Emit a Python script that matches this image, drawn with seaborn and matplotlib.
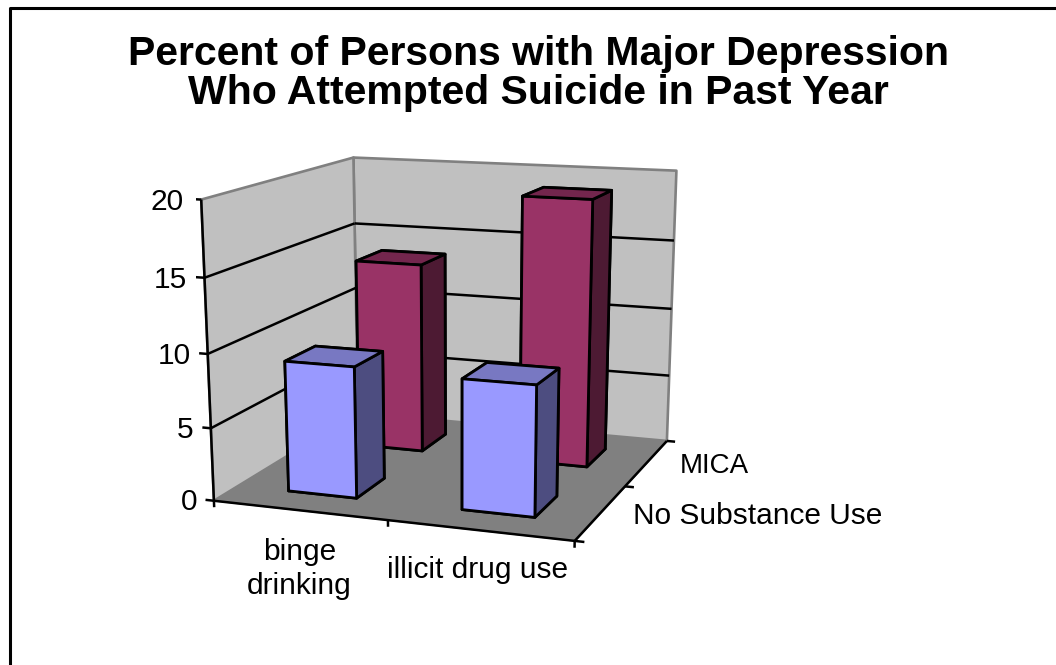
import numpy as np
import matplotlib
matplotlib.use("Agg")
import matplotlib.pyplot as plt
from matplotlib.lines import Line2D
from mpl_toolkits.mplot3d.art3d import Poly3DCollection, Line3DCollection
import seaborn as sns

# ---- data ----
categories = ["binge\ndrinking", "illicit drug use"]
series_names = ["No Substance Use", "MICA"]
no_substance = [9.0, 8.8]
mica = [13.7, 18.9]
z_ticks = [0, 5, 10, 15, 20]
title = "Percent of Persons with Major Depression\nWho Attempted Suicide in Past Year"

# ---- style ----
sns.set_theme(style="white")
plt.rcParams["font.family"] = ["Liberation Sans", "DejaVu Sans"]
FS = 21.5
BAR_W = 0.4
WALL, FLOOR, EDGE = "#C0C0C0", "#808080", "#808080"
BLUE = ["#9999FF", "#7878C2", "#4D4D80"]      # front, top, side
WINE = ["#993366", "#73264D", "#4D1A33"]
LW = 2.0

W, H = 1056, 665
# Camera of the chart: world (x, y, z) -> pixel (u*w, v*w, w)
CAMERA = np.array([[160.82148, 105.55331, -1.12972, 213.90928],
                   [1.65113, -5.18733, -15.550478, 500.76306],
                   [-0.03405, 0.09386, -0.002459, 1.0]])

fig = plt.figure(figsize=(W / 100, H / 100), dpi=100, facecolor="white")
ax = fig.add_axes([0, 0, 1, 1], projection="3d", computed_zorder=False)
ax.set_axis_off()


def fixed_proj():
    inv = ax.transData.inverted()
    o, ex, ey = inv.transform([[0, 0], [1, 0], [0, 1]])
    ax_, bx = ex[0] - o[0], o[0]
    ay, by = ey[1] - o[1], o[1]
    u, v, w = CAMERA
    far = np.array([0, 0, 0, 1.0])
    return np.array([ax_ * u + bx * w,
                     ay * (H * w - v) + by * w,
                     w - far,
                     w])


ax.get_proj = fixed_proj


def label(x, y, z, s, dy=0, **kw):
    """Place a real 2D text at the picture position of a world point."""
    u, v, w = CAMERA @ np.array([x, y, z, 1.0])
    fig.text(u / w / W, 1 - (v / w + dy) / H, s, color="black", **kw)


xn, yn = len(categories), len(series_names)
zmax = z_ticks[-1]
ax.set_xlim(0, xn); ax.set_ylim(0, yn); ax.set_zlim(0, zmax)

# walls and floor
left_wall = [(0, 0, 0), (0, yn, 0), (0, yn, zmax), (0, 0, zmax)]
back_wall = [(0, yn, 0), (xn, yn, 0), (xn, yn, zmax), (0, yn, zmax)]
floor = [(0, 0, 0), (xn, 0, 0), (xn, yn, 0), (0, yn, 0)]
ax.add_collection3d(Poly3DCollection([left_wall, back_wall], facecolors=WALL,
                                     edgecolors=EDGE, linewidths=1.9, zorder=1))
ax.add_collection3d(Poly3DCollection([floor], facecolors=FLOOR, edgecolors=FLOOR,
                                     linewidths=0.5, zorder=1.5))

# gridlines, axes lines and ticks
segs = []
for z in z_ticks[1:-1]:
    segs += [[(0, 0, z), (0, yn, z)], [(0, yn, z), (xn, yn, z)]]
segs += [[(0, 0, 0), (0, 0, zmax)], [(0, 0, 0), (xn, 0, 0)], [(xn, 0, 0), (xn, yn, 0)]]
for z in z_ticks:
    segs.append([(-0.05, 0, z), (0, 0, z)])
    label(-0.1, 0, z, str(z), dy=3, ha="right", va="center", fontsize=FS)
for k in range(xn + 1):
    segs.append([(k, 0, 0), (k, 0, -0.45)])
for k in range(yn + 1):
    segs.append([(xn, k, 0), (xn + 0.05, k, 0)])
ax.add_collection3d(Line3DCollection(segs, colors="black", linewidths=1.8, zorder=2))

# bars: MICA row behind, No Substance Use row in front
for row, (vals, shades, zo) in enumerate([(no_substance, BLUE, 4), (mica, WINE, 3)]):
    for c, val in enumerate(vals):
        x0 = c + (1 - BAR_W) / 2
        y0 = row + (1 - BAR_W) / 2
        colors = [shades[2], shades[1], shades[0], shades[2], shades[2], shades[2]]
        ax.bar3d(x0, y0, 0, BAR_W, BAR_W, val, color=colors, shade=False,
                 edgecolor="black", linewidth=LW, zorder=zo)

# category labels
label(0.49, 0, -4.1, categories[0], ha="center", va="center", fontsize=FS,
      linespacing=1.3)
label(1.49, 0, -2.7, categories[1], ha="center", va="center", fontsize=FS)
label(2.19, 1.5, 0, series_names[1], ha="left", va="center", fontsize=20)
label(2.17, 0.5, 0, series_names[0], ha="left", va="center", fontsize=FS)

# title and chart frame
fig.text(538 / W, 1 - 73.5 / H, title, ha="center", va="center", fontsize=29.5,
         fontweight="bold", color="black", linespacing=1.05)
fig.add_artist(Line2D([9.5 / W, 9.5 / W, 1], [0, 1 - 8 / H, 1 - 8 / H],
                      color="black", lw=2.2))

fig.savefig("out.png", dpi=100, facecolor="white")
